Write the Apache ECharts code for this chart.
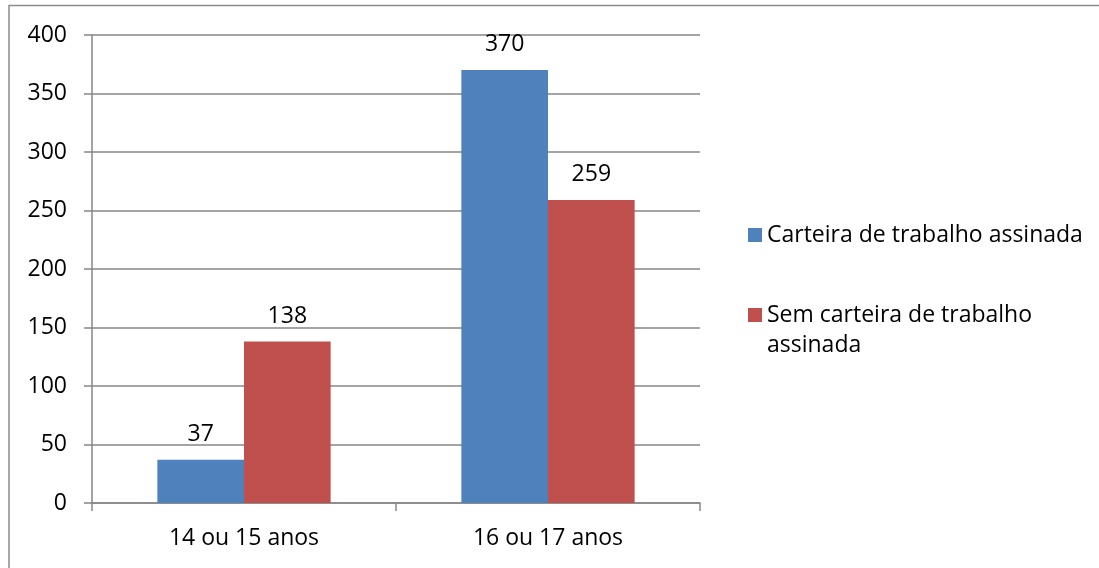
<!DOCTYPE html>
<html>
<head>
<meta charset="utf-8">
<script src="https://cdn.jsdelivr.net/npm/echarts@6/dist/echarts.min.js"></script>
<style>
  html, body { margin: 0; padding: 0; background: #fff; }
  #chart { width: 1099px; height: 568px; }
</style>
</head>
<body>
<div id="chart"></div>
<script>
// Age groups on the category axis
const categories = ['14 ou 15 anos', '16 ou 17 anos'];
// Workers with a signed work card
const comCarteira = [37, 370];
// Workers without a signed work card
const semCarteira = [138, 259];
// Value axis ticks
const yTicks = [0, 50, 100, 150, 200, 250, 300, 350, 400];

const FONT = 'Open Sans';
const SIZE = 23;
const GRID = '#868686';

const chart = echarts.init(document.getElementById('chart'));

chart.setOption({
  animation: false,
  backgroundColor: '#ffffff',
  textStyle: { fontFamily: FONT },
  graphic: [
    {
      type: 'polyline',
      shape: { points: [[9, 568], [9, 5.5], [1099, 5.5]] },
      style: { stroke: '#8c8c8c', lineWidth: 1.5, fill: null },
      silent: true
    }
  ],
  grid: { left: 92, right: 399, top: 35, bottom: 65, containLabel: false },
  legend: [
    {
      orient: 'vertical',
      left: 743,
      top: 215,
      itemWidth: 14,
      itemHeight: 14,
      icon: 'rect',
      textStyle: { fontFamily: FONT, fontSize: SIZE, color: '#000', lineHeight: 30 },
      data: ['Carteira de trabalho assinada']
    },
    {
      orient: 'vertical',
      left: 743,
      top: 265,
      itemWidth: 14,
      itemHeight: 14,
      icon: 'rect',
      textStyle: { fontFamily: FONT, fontSize: SIZE, color: '#000', lineHeight: 30 },
      // leading blank line keeps the first line level with the swatch
      formatter: () => ' \nSem carteira de trabalho\nassinada',
      data: ['Sem carteira de trabalho assinada']
    }
  ],
  xAxis: {
    type: 'category',
    data: categories,
    axisLine: { lineStyle: { color: GRID, width: 1.5 } },
    axisTick: { show: true, length: 8, lineStyle: { color: GRID, width: 1.5 } },
    axisLabel: { fontFamily: FONT, fontSize: SIZE, color: '#000', margin: 24 }
  },
  yAxis: {
    type: 'value',
    min: yTicks[0],
    max: yTicks[yTicks.length - 1],
    interval: yTicks[1] - yTicks[0],
    axisLine: { show: true, lineStyle: { color: GRID, width: 1.5 } },
    axisTick: { show: true, length: 8, lineStyle: { color: GRID, width: 1.5 } },
    splitLine: { lineStyle: { color: GRID, width: 1.5 } },
    axisLabel: { fontFamily: FONT, fontSize: SIZE, color: '#000', margin: 25 }
  },
  series: [
    {
      name: 'Carteira de trabalho assinada',
      type: 'bar',
      data: comCarteira,
      barGap: '0%',
      barCategoryGap: '43%',
      itemStyle: { color: '#4F81BD' },
      label: { show: true, position: 'top', distance: 14, fontFamily: FONT, fontSize: SIZE, color: '#000' }
    },
    {
      name: 'Sem carteira de trabalho assinada',
      type: 'bar',
      data: semCarteira,
      barGap: '0%',
      barCategoryGap: '43%',
      itemStyle: { color: '#C0504D' },
      label: { show: true, position: 'top', distance: 14, fontFamily: FONT, fontSize: SIZE, color: '#000' }
    }
  ]
});
</script>
</body>
</html>
